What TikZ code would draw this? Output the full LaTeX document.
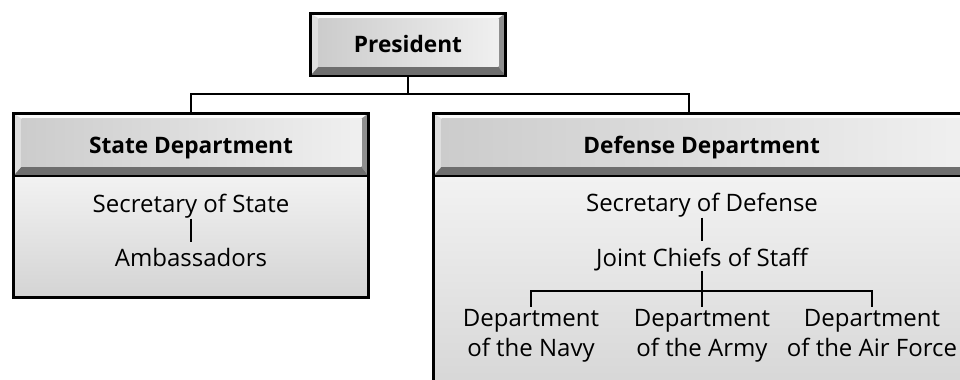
\documentclass[tikz,border=0pt]{standalone}
\usepackage{fontspec}
\setmainfont{Open Sans}
\usetikzlibrary{calc}
\definecolor{facel}{gray}{.80}
\definecolor{facer}{gray}{.94}
\definecolor{bevtop}{gray}{.98}
\definecolor{bevleft}{gray}{.87}
\definecolor{bevright}{gray}{.56}
\definecolor{bevbot}{gray}{.43}
\definecolor{bodytop}{gray}{.95}
\definecolor{bodybot}{gray}{.83}

\tikzset{
  hdrbox/.style={draw=black, line width=2pt, inner sep=0pt,
    text height=12.6pt, text depth=0pt,
    font=\bfseries\fontsize{17}{21}\selectfont,
    path picture={
      \coordinate (nw) at (path picture bounding box.north west);
      \coordinate (ne) at (path picture bounding box.north east);
      \coordinate (se) at (path picture bounding box.south east);
      \coordinate (sw) at (path picture bounding box.south west);
      \coordinate (inw) at ($(nw)+(6.2pt,-4pt)$);
      \coordinate (ine) at ($(ne)+(-5.5pt,-4pt)$);
      \coordinate (ise) at ($(se)+(-5.5pt,7pt)$);
      \coordinate (isw) at ($(sw)+(6.2pt,7pt)$);
      \fill[bevtop] (nw) -- (ne) -- (ine) -- (inw) -- cycle;
      \fill[bevleft] (nw) -- (inw) -- (isw) -- (sw) -- cycle;
      \fill[bevright] (ne) -- (se) -- (ise) -- (ine) -- cycle;
      \fill[bevbot] (sw) -- (isw) -- (ise) -- (se) -- cycle;
      \shade[left color=facel, right color=facer] (inw) rectangle (ise);
    }},
  bodybox/.style={draw=black, line width=2pt, inner sep=0pt,
    top color=bodytop, bottom color=bodybot},
  lbl/.style={font=\fontsize{18}{22}\selectfont, inner sep=0pt},
  link/.style={line width=2.2pt}
}

\begin{document}
\begin{tikzpicture}[x=0.75pt,y=-0.75pt]
\useasboundingbox[fill=white] (0,0) rectangle (960,379);

% president
\node[hdrbox, minimum width=146.5pt, minimum height=47pt] (pres) at (408,44.5) {President};

% state department
\node[bodybox, minimum width=266.5pt, minimum height=91.3pt] (stateb) at (191,236.8) {};
\node[hdrbox, minimum width=266.5pt, minimum height=47pt] (stateh) at (191,144.7) {State Department};
\node[lbl, anchor=base] (secstate) at (191,212) {Secretary of State};
\node[lbl, anchor=base] (amb) at (191,266) {Ambassadors};
\draw[link] ([yshift=-0.5pt]secstate.south) -- ([yshift=4.5pt]amb.north);

% defense department
\node[bodybox, minimum width=402.5pt, minimum height=175.5pt] (defb) at (701.7,293) {};
\node[hdrbox, minimum width=402.5pt, minimum height=47pt] (defh) at (701.7,144.7) {Defense Department};
\node[lbl, anchor=base] (secdef) at (702,211) {Secretary of Defense};
\node[lbl, anchor=base] (jcs) at (702,266) {Joint Chiefs of Staff};
\draw[link] ([yshift=-0.5pt]secdef.south) -- ([yshift=4.5pt]jcs.north);
\node[lbl, anchor=north, align=center] (navy) at (531,309.5) {Department\\of the Navy};
\node[lbl, anchor=north, align=center] (army) at (702,309.5) {Department\\of the Army};
\node[lbl, anchor=north, align=center] (airf) at (872,309.5) {Department\\of the Air Force};
\coordinate (fork) at (702,291);
\draw[link] (jcs.south) -- (fork);
\draw[link] ([yshift=2.2pt]navy.north) |- (fork) -| ([yshift=2.2pt]airf.north);
\draw[link] (fork) -- ([yshift=2.2pt]army.north);

% top connectors
\coordinate (split) at (408,94);
\coordinate (defjoin) at (689,113.3);
\draw[link] (pres.south) -- (split);
\draw[link] (stateh.north) |- (split) -| (defjoin);
\end{tikzpicture}
\end{document}
